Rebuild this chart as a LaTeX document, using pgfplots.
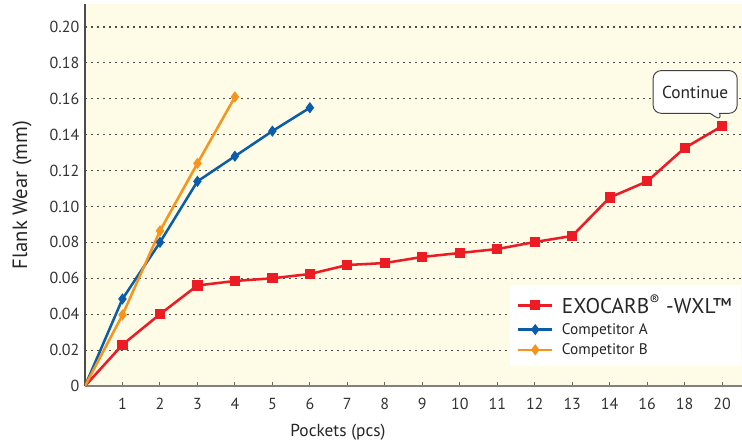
\documentclass[border=0pt]{standalone}
\usepackage{fontspec}
\setmainfont{PT Sans}
\usepackage{pgfplots}
\pgfplotsset{compat=1.18}
\usetikzlibrary{shapes.callouts}
\definecolor{bgc}{HTML}{FEFBE6}
\definecolor{cred}{HTML}{ED1C24}
\definecolor{cblue}{HTML}{0B5DAA}
\definecolor{corange}{HTML}{F7941D}
\begin{document}
\begin{tikzpicture}
\begin{axis}[name=ax, scale only axis, width=492.75pt, height=286.5pt,
  xmin=0, xmax=17.53, ymin=0, ymax=0.2128,
  axis background/.style={fill=bgc},
  axis x line=bottom, axis y line=left,
  x axis line style={-, draw=black!50, line width=1.6pt},
  y axis line style={-, draw=black!70, line width=1pt},
  xtick={1,...,17},
  xticklabels={1,2,3,4,5,6,7,8,9,10,11,12,13,14,16,18,20},
  tick align=inside, major tick length=3pt,
  xtick style={draw=black!60, line width=0.8pt},
  ytick={0,0.02,0.04,0.06,0.08,0.10,0.12,0.14,0.16,0.18,0.20},
  yticklabels={0,0.02,0.04,0.06,0.08,0.10,0.12,0.14,0.16,0.18,0.20},
  ytick style={draw=none},
  ymajorgrids, grid style={draw=black!70, line width=0.8pt, dash pattern=on 1.5pt off 3pt},
  tick label style={font=\fontsize{12}{14}\selectfont, text=black!80},
  xticklabel style={yshift=-5pt},
  xlabel={Pockets (pcs)}, ylabel={Flank Wear (mm)},
  xlabel style={font=\fontsize{13}{15}\selectfont, text=black!85, at={(axis description cs:0.385,-0.1204)}, anchor=center},
  ylabel style={font=\fontsize{15.5}{17}\selectfont, text=black!85, at={(axis description cs:-0.0959,0.5)}, anchor=center},
  legend style={draw=none, fill=white, at={(1,0.05)}, anchor=south east,
    font=\fontsize{11.5}{13}\selectfont, text=black!85, inner xsep=5pt, inner ysep=5pt,
    row sep=1.5pt, cells={anchor=west}},
  legend image code/.code={\draw[mark indices={2}] plot coordinates {(0cm,0cm)(0.45cm,0cm)(0.9cm,0cm)}; \path (1.05cm,0cm);},
  line width=1.9pt,
]
\addplot[cred, mark=square*, mark size=2.9pt, mark indices={2,...,18}] coordinates {
(0,0) (1,0.023) (2,0.040) (3,0.056) (4,0.0585) (5,0.060) (6,0.0624) (7,0.0674) (8,0.0685)
(9,0.0719) (10,0.0741) (11,0.0763) (12,0.0802) (13,0.0836) (14,0.105) (15,0.114) (16,0.1326) (17,0.1448)};
\addlegendentry{\fontsize{16}{18}\selectfont EXOCARB\textsuperscript{®} -WXL™}
\addplot[cblue, mark=diamond*, mark size=2.7pt, mark indices={2,...,7}] coordinates {
(0,0) (1,0.0485) (2,0.080) (3,0.114) (4,0.128) (5,0.142) (6,0.155)};
\addlegendentry{Competitor A}
\addplot[corange, mark=diamond*, mark size=2.7pt, mark indices={2,...,5}] coordinates {
(0,0) (1,0.0396) (2,0.0864) (3,0.124) (4,0.161)};
\addlegendentry{Competitor B}
\node[rectangle callout, draw=black!75, line width=0.7pt, fill=white, rounded corners=6pt,
  minimum width=63pt, minimum height=32pt, font=\fontsize{13}{15}\selectfont, text=black!85,
  callout absolute pointer={(axis cs:17,0.1475)}] at (axis cs:16.28,0.1638) {Continue};
\end{axis}
\pgfresetboundingbox
\useasboundingbox ([xshift=-63.75pt, yshift=-45pt]ax.south west) rectangle ([yshift=3pt]ax.north east);
\end{tikzpicture}
\end{document}
